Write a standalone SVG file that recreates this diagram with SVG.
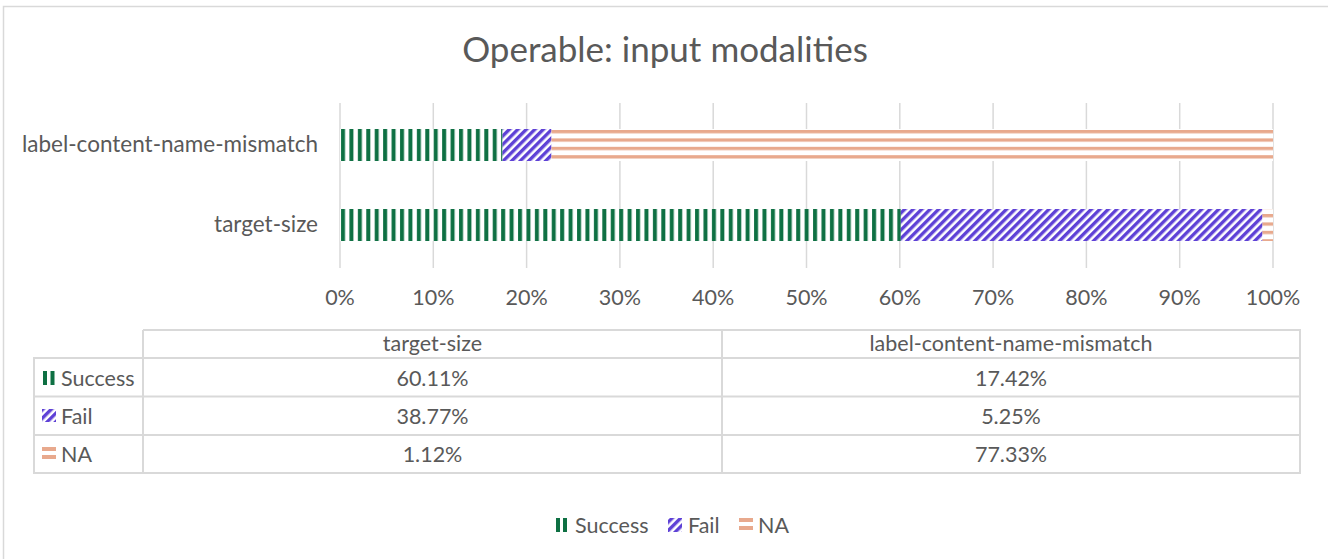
<svg xmlns="http://www.w3.org/2000/svg" width="1328" height="559" viewBox="0 0 1328 559">
  <style>
    text { font-family: Lato, "Liberation Sans", sans-serif; fill: #595959; }
    .title { font-size: 35px; text-anchor: middle; }
    .cat { font-size: 22.5px; text-anchor: end; }
    .tick { font-size: 21.5px; text-anchor: middle; }
    .cell { font-size: 21.5px; text-anchor: middle; }
    .rowlab { font-size: 21.5px; }
    .grid { stroke: #D9D9D9; stroke-width: 1.5; fill: none; }
    .tbl { stroke: #D9D9D9; stroke-width: 2; fill: none; }
  </style>
  <defs>
    <!-- dark vertical stripes -->
    <pattern id="pSuccess" x="340" y="0" width="8.43" height="10" patternUnits="userSpaceOnUse">
      <rect width="8.43" height="10" fill="#ffffff"/>
      <rect x="1" width="4" height="10" fill="#0E7043"/>
    </pattern>
    <!-- wide upward diagonal -->
    <pattern id="pFail" x="0" y="0" width="6" height="6" patternUnits="userSpaceOnUse" patternTransform="rotate(45)">
      <rect width="6" height="6" fill="#ffffff"/>
      <rect width="3.4" height="6" fill="#5E41D6"/>
    </pattern>
    <!-- horizontal stripes -->
    <pattern id="pNA" x="0" y="130" width="10" height="8.4" patternUnits="userSpaceOnUse">
      <rect width="10" height="8.4" fill="#ffffff"/>
      <rect width="10" height="3.3" fill="#E8A98D"/>
    </pattern>
  </defs>

  <rect x="0" y="0" width="1328" height="559" fill="#ffffff"/>
  <!-- chart frame -->
  <rect x="3.5" y="6.5" width="1340" height="570" fill="none" stroke="#D9D9D9" stroke-width="1.5"/>

  <text class="title" x="665" y="62">Operable: input modalities</text>

  <!-- value axis gridlines -->
  <g id="gridlines" class="grid">
    <line x1="340" y1="103" x2="340" y2="268"/>
    <line x1="433.3" y1="103" x2="433.3" y2="268"/>
    <line x1="526.6" y1="103" x2="526.6" y2="268"/>
    <line x1="619.9" y1="103" x2="619.9" y2="268"/>
    <line x1="713.2" y1="103" x2="713.2" y2="268"/>
    <line x1="806.5" y1="103" x2="806.5" y2="268"/>
    <line x1="899.8" y1="103" x2="899.8" y2="268"/>
    <line x1="993.1" y1="103" x2="993.1" y2="268"/>
    <line x1="1086.4" y1="103" x2="1086.4" y2="268"/>
    <line x1="1179.7" y1="103" x2="1179.7" y2="268"/>
    <line x1="1273" y1="103" x2="1273" y2="268"/>
  </g>

  <g id="ticks">
    <text class="tick" x="340" y="305">0%</text>
    <text class="tick" x="433.3" y="305">10%</text>
    <text class="tick" x="526.6" y="305">20%</text>
    <text class="tick" x="619.9" y="305">30%</text>
    <text class="tick" x="713.2" y="305">40%</text>
    <text class="tick" x="806.5" y="305">50%</text>
    <text class="tick" x="899.8" y="305">60%</text>
    <text class="tick" x="993.1" y="305">70%</text>
    <text class="tick" x="1086.4" y="305">80%</text>
    <text class="tick" x="1179.7" y="305">90%</text>
    <text class="tick" x="1273" y="305">100%</text>
  </g>

  <!-- bars: label-content-name-mismatch -->
  <g id="bar-mismatch">
    <text class="cat" x="318" y="152">label-content-name-mismatch</text>
    <rect x="340" y="129" width="162.5" height="32" fill="url(#pSuccess)"/>
    <rect x="502.5" y="129" width="49" height="32" fill="url(#pFail)"/>
    <rect x="551.5" y="129" width="721.5" height="32" fill="url(#pNA)"/>
  </g>

  <!-- bars: target-size -->
  <g id="bar-target">
    <text class="cat" x="318" y="232">target-size</text>
    <rect x="340" y="209" width="560.8" height="32" fill="url(#pSuccess)"/>
    <rect x="900.8" y="209" width="361.7" height="32" fill="url(#pFail)"/>
    <rect x="1262.5" y="209" width="10.5" height="32" fill="url(#pNA)"/>
  </g>

  <!-- data table -->
  <g id="data-table">
    <g class="tbl">
      <path d="M143 330 H1300 V473 H34 V358 H1300"/>
      <line x1="34" y1="396.5" x2="1300" y2="396.5"/>
      <line x1="34" y1="435" x2="1300" y2="435"/>
      <line x1="143" y1="330" x2="143" y2="473"/>
      <line x1="722" y1="330" x2="722" y2="473"/>
    </g>
    <text class="cell" x="432.5" y="351">target-size</text>
    <text class="cell" x="1011" y="351">label-content-name-mismatch</text>

    <rect x="43" y="371" width="4" height="14" fill="#0E7043"/>
    <rect x="50.5" y="371" width="4" height="14" fill="#0E7043"/>
    <text class="rowlab" x="61" y="386">Success</text>
    <text class="cell" x="432.5" y="386">60.11%</text>
    <text class="cell" x="1011" y="386">17.42%</text>

    <rect x="42" y="409" width="14" height="13" fill="url(#pFail)"/>
    <text class="rowlab" x="61" y="424">Fail</text>
    <text class="cell" x="432.5" y="424">38.77%</text>
    <text class="cell" x="1011" y="424">5.25%</text>

    <rect x="42" y="447" width="14" height="4" fill="#E8A98D"/>
    <rect x="42" y="455" width="14" height="4" fill="#E8A98D"/>
    <text class="rowlab" x="61" y="462">NA</text>
    <text class="cell" x="432.5" y="462">1.12%</text>
    <text class="cell" x="1011" y="462">77.33%</text>
  </g>

  <!-- legend -->
  <g id="legend">
    <rect x="556" y="518" width="4" height="14" fill="#0E7043"/>
    <rect x="563" y="518" width="4" height="14" fill="#0E7043"/>
    <text class="rowlab" x="575" y="533">Success</text>
    <rect x="668" y="518" width="14" height="14" fill="url(#pFail)"/>
    <text class="rowlab" x="688" y="533">Fail</text>
    <rect x="739" y="518" width="14" height="4" fill="#E8A98D"/>
    <rect x="739" y="526" width="14" height="4" fill="#E8A98D"/>
    <text class="rowlab" x="758" y="533">NA</text>
  </g>
</svg>
